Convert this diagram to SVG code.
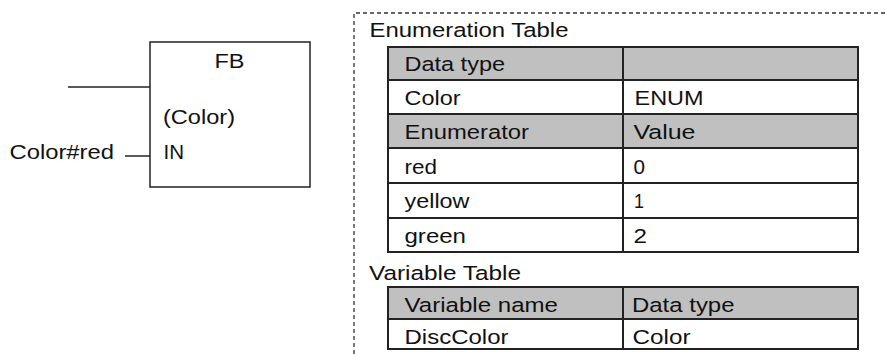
<svg xmlns="http://www.w3.org/2000/svg" width="885" height="354" viewBox="0 0 885 354">
<style>
text{font-family:"Liberation Sans",Arial,sans-serif;font-size:20.5px;fill:#111}
.ln{stroke:#222;stroke-width:1.5;fill:none}
.cell{stroke:#222;stroke-width:2;fill:#fff}
.hd{stroke:#222;stroke-width:2;fill:#c0c0c0}
.dash{stroke:#333;stroke-width:1.3;fill:none;stroke-dasharray:4 3}
</style>
<rect width="885" height="354" fill="#fff"/>
<g id="fb">
<rect x="150" y="42" width="160" height="145" class="ln" fill="#fff"/>
<text x="214.5" y="68" textLength="30" lengthAdjust="spacingAndGlyphs">FB</text>
<text x="163" y="124" textLength="72" lengthAdjust="spacingAndGlyphs">(Color)</text>
<text x="163.5" y="159" textLength="20.5" lengthAdjust="spacingAndGlyphs">IN</text>
</g>
<g id="connectors">
<line x1="68" y1="87" x2="150" y2="87" class="ln"/>
<line x1="125" y1="156" x2="150" y2="156" class="ln"/>
</g>
<text x="9.5" y="159" textLength="104.5" lengthAdjust="spacingAndGlyphs">Color#red</text>
<g id="frame">
<path d="M354 354 V13 H885" class="dash"/>
</g>
<g id="enum-table">
<text x="369.5" y="37" textLength="199" lengthAdjust="spacingAndGlyphs">Enumeration Table</text>
<rect x="388" y="47" width="235" height="33" class="hd"/>
<rect x="623" y="47" width="235" height="33" class="hd"/>
<rect x="388" y="80" width="235" height="34" class="cell"/>
<rect x="623" y="80" width="235" height="34" class="cell"/>
<rect x="388" y="114" width="235" height="34" class="hd"/>
<rect x="623" y="114" width="235" height="34" class="hd"/>
<rect x="388" y="148" width="235" height="35" class="cell"/>
<rect x="623" y="148" width="235" height="35" class="cell"/>
<rect x="388" y="183" width="235" height="35" class="cell"/>
<rect x="623" y="183" width="235" height="35" class="cell"/>
<rect x="388" y="218" width="235" height="34" class="cell"/>
<rect x="623" y="218" width="235" height="34" class="cell"/>
<text x="404.5" y="71" textLength="100.5" lengthAdjust="spacingAndGlyphs">Data type</text>
<text x="404.5" y="105" textLength="56" lengthAdjust="spacingAndGlyphs">Color</text>
<text x="634.5" y="105" textLength="69" lengthAdjust="spacingAndGlyphs">ENUM</text>
<text x="404.5" y="139" textLength="124.5" lengthAdjust="spacingAndGlyphs">Enumerator</text>
<text x="633.5" y="139" textLength="62" lengthAdjust="spacingAndGlyphs">Value</text>
<text x="404.5" y="174" textLength="32.5" lengthAdjust="spacingAndGlyphs">red</text>
<text x="633.5" y="174" textLength="11.5" lengthAdjust="spacingAndGlyphs">0</text>
<text x="404.5" y="208" textLength="65" lengthAdjust="spacingAndGlyphs">yellow</text>
<text x="634" y="208" textLength="10" lengthAdjust="spacingAndGlyphs">1</text>
<text x="404.5" y="243" textLength="61.5" lengthAdjust="spacingAndGlyphs">green</text>
<text x="633.5" y="243" textLength="13.5" lengthAdjust="spacingAndGlyphs">2</text>
</g>
<g id="var-table">
<text x="369" y="280" textLength="152" lengthAdjust="spacingAndGlyphs">Variable Table</text>
<rect x="388" y="287" width="235" height="32" class="hd"/>
<rect x="623" y="287" width="235" height="32" class="hd"/>
<rect x="388" y="319" width="235" height="30" class="cell"/>
<rect x="623" y="319" width="235" height="30" class="cell"/>
<text x="404.5" y="312" textLength="153.5" lengthAdjust="spacingAndGlyphs">Variable name</text>
<text x="632" y="312" textLength="102.5" lengthAdjust="spacingAndGlyphs">Data type</text>
<text x="404.5" y="344" textLength="104" lengthAdjust="spacingAndGlyphs">DiscColor</text>
<text x="632.5" y="344" textLength="58" lengthAdjust="spacingAndGlyphs">Color</text>
</g>
</svg>
